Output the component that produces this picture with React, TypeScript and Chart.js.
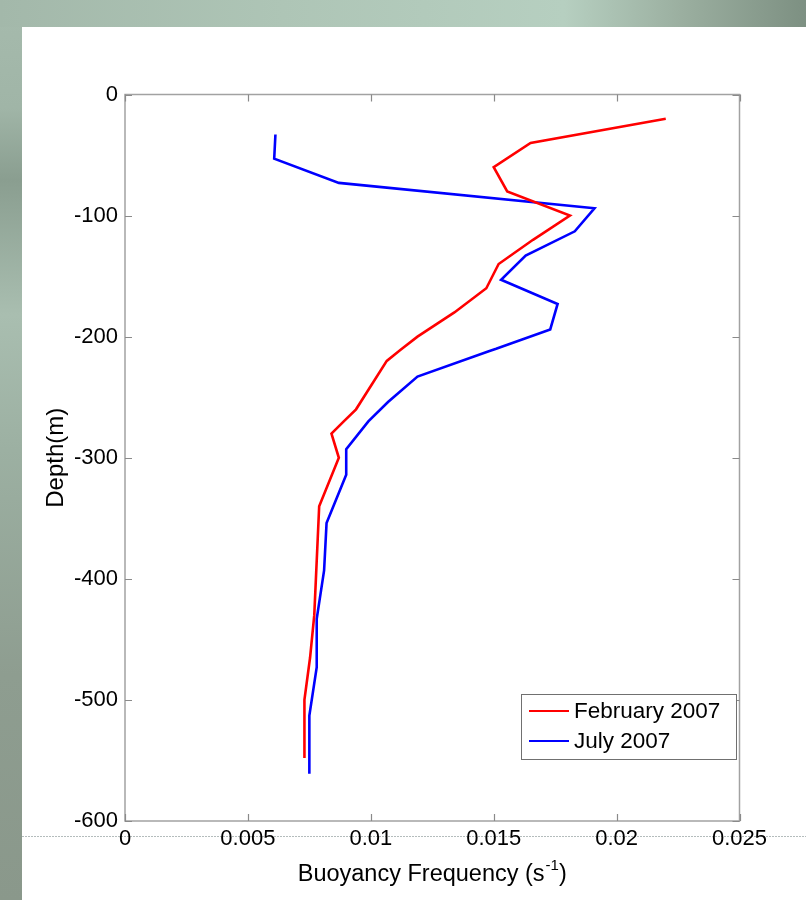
import React, { useEffect, useRef } from "react";
import { Chart, registerables } from "chart.js";
Chart.register(...registerables);

// February 2007 profile: depth (m) and buoyancy frequency (s^-1)
const febDepth = [-20, -40, -60, -80, -100, -120, -140, -160, -180, -200, -211, -220, -260, -270, -280, -300, -340, -430, -465, -500, -548];
const febN = [0.022, 0.0165, 0.015, 0.01555, 0.0181, 0.0166, 0.0152, 0.0147, 0.0134, 0.0119, 0.0112, 0.01065, 0.0094, 0.0089, 0.0084, 0.0087, 0.0079, 0.0077, 0.00753, 0.0073, 0.0073];

// July 2007 profile
const julDepth = [-33, -53, -73, -94, -113, -133, -153, -173, -194, -210, -212, -233, -254, -270, -293, -314, -354, -393, -433, -473, -513, -561];
const julN = [0.00612, 0.00607, 0.0087, 0.0191, 0.0183, 0.0163, 0.0153, 0.0176, 0.0173, 0.0151, 0.0148, 0.0119, 0.0107, 0.0099, 0.009, 0.009, 0.0082, 0.0081, 0.0078, 0.0078, 0.0075, 0.0075];

const seriesNames = ["February 2007", "July 2007"];
const seriesColors = ["#ff0000", "#0000ff"];

const xTickValues = [0, 0.005, 0.01, 0.015, 0.02, 0.025];
const xTickLabels = ["0", "0.005", "0.01", "0.015", "0.02", "0.025"];
const yTickValues = [0, -100, -200, -300, -400, -500, -600];
const yTickLabels = ["0", "-100", "-200", "-300", "-400", "-500", "-600"];

const xTitleMain = "Buoyancy Frequency (s";
const xTitleSup = "-1";
const xTitleEnd = ")";
const yTitle = "Depth(m)";

const FONT = "'Liberation Sans', Arial, Helvetica, sans-serif";

const decorPlugin = {
  id: "decor",
  beforeDraw(chart: any) {
    const { ctx, width, height } = chart;
    ctx.save();
    ctx.fillStyle = "#ffffff";
    ctx.fillRect(0, 0, width, height);
    // top strip
    const gTop = ctx.createLinearGradient(0, 0, width, 0);
    gTop.addColorStop(0, "#a3b8aa");
    gTop.addColorStop(0.35, "#aec5b6");
    gTop.addColorStop(0.7, "#b6cfc0");
    gTop.addColorStop(0.85, "#9aae9f");
    gTop.addColorStop(1, "#7d9082");
    ctx.fillStyle = gTop;
    ctx.fillRect(0, 0, width, 27);
    // left strip
    const gLeft = ctx.createLinearGradient(0, 0, 0, height);
    gLeft.addColorStop(0, "#a6bbad");
    gLeft.addColorStop(0.12, "#a0b5a7");
    gLeft.addColorStop(0.2, "#8a9e90");
    gLeft.addColorStop(0.35, "#a9beb0");
    gLeft.addColorStop(0.5, "#9cb0a2");
    gLeft.addColorStop(0.75, "#8e9d90");
    gLeft.addColorStop(1, "#8a988b");
    ctx.fillStyle = gLeft;
    ctx.fillRect(0, 27, 22, height - 27);
    // dotted separator line
    ctx.strokeStyle = "#b4bcbc";
    ctx.lineWidth = 1;
    ctx.setLineDash([2, 1]);
    ctx.beginPath();
    ctx.moveTo(22, 836.5);
    ctx.lineTo(width, 836.5);
    ctx.stroke();
    ctx.restore();
  },
  afterDraw(chart: any) {
    const { ctx, chartArea: ca, scales } = chart;
    const xs = scales.x;
    const ys = scales.y;
    ctx.save();
    // frame
    ctx.strokeStyle = "#a2a2a2";
    ctx.lineWidth = 1.5;
    ctx.strokeRect(ca.left, ca.top, ca.right - ca.left, ca.bottom - ca.top);
    ctx.lineWidth = 1.2;
    ctx.strokeStyle = "#8a8a8a";
    ctx.beginPath();
    xTickValues.forEach((v) => {
      const px = Math.round(xs.getPixelForValue(v)) + 0.5;
      ctx.moveTo(px, ca.bottom);
      ctx.lineTo(px, ca.bottom - 7);
      ctx.moveTo(px, ca.top);
      ctx.lineTo(px, ca.top + 7);
    });
    yTickValues.forEach((v) => {
      const py = Math.round(ys.getPixelForValue(v)) + 0.5;
      ctx.moveTo(ca.left, py);
      ctx.lineTo(ca.left + 7, py);
      ctx.moveTo(ca.right, py);
      ctx.lineTo(ca.right - 7, py);
    });
    ctx.stroke();

    // legend
    const lw = 215, lh = 65;
    const lx = ca.right - 3.5 - lw;
    const ly = ca.bottom - 62 - lh;
    ctx.fillStyle = "#ffffff";
    ctx.fillRect(lx, ly, lw, lh);
    ctx.strokeStyle = "#707070";
    ctx.lineWidth = 1;
    ctx.strokeRect(lx + 0.5, ly + 0.5, lw, lh);
    ctx.font = `22.5px ${FONT}`;
    ctx.textBaseline = "middle";
    ctx.textAlign = "left";
    seriesNames.forEach((name, i) => {
      const yy = ly + 17 + i * 30;
      ctx.strokeStyle = seriesColors[i];
      ctx.lineWidth = 2;
      ctx.beginPath();
      ctx.moveTo(lx + 8, yy);
      ctx.lineTo(lx + 48, yy);
      ctx.stroke();
      ctx.fillStyle = "#000000";
      ctx.fillText(name, lx + 53, yy + 1);
    });

    // x axis title with superscript
    const mainFont = `23.5px ${FONT}`;
    const supFont = `15px ${FONT}`;
    ctx.font = mainFont;
    const w1 = ctx.measureText(xTitleMain).width;
    const w3 = ctx.measureText(xTitleEnd).width;
    ctx.font = supFont;
    const w2 = ctx.measureText(xTitleSup).width;
    const total = w1 + w2 + w3 + 1;
    const cx = (ca.left + ca.right) / 2;
    let sx = cx - total / 2;
    const by = 881;
    ctx.textBaseline = "alphabetic";
    ctx.fillStyle = "#000000";
    ctx.font = mainFont;
    ctx.fillText(xTitleMain, sx, by);
    sx += w1 + 1;
    ctx.font = supFont;
    ctx.fillText(xTitleSup, sx, by - 11);
    sx += w2;
    ctx.font = mainFont;
    ctx.fillText(xTitleEnd, sx, by);
    ctx.restore();
  },
};

export default function App() {
  const ref = useRef<HTMLCanvasElement | null>(null);
  useEffect(() => {
    if (!ref.current) return;
    const chart = new Chart(ref.current, {
      type: "scatter",
      data: {
        datasets: [
          {
            label: seriesNames[0],
            data: febDepth.map((d, i) => ({ x: febN[i], y: d })),
            showLine: true,
            borderColor: seriesColors[0],
            backgroundColor: seriesColors[0],
            borderWidth: 2.6,
            pointRadius: 0,
            tension: 0,
          },
          {
            label: seriesNames[1],
            data: julDepth.map((d, i) => ({ x: julN[i], y: d })),
            showLine: true,
            borderColor: seriesColors[1],
            backgroundColor: seriesColors[1],
            borderWidth: 2.6,
            pointRadius: 0,
            tension: 0,
          },
        ],
      },
      options: {
        responsive: false,
        animation: false,
        devicePixelRatio: 1,
        layout: { padding: { left: 0, top: 94.5, right: 66.5, bottom: 0 } },
        plugins: { legend: { display: false }, tooltip: { enabled: false } },
        scales: {
          x: {
            type: "linear",
            min: 0,
            max: 0.025,
            afterBuildTicks: (s: any) => {
              s.ticks = xTickValues.map((v) => ({ value: v }));
            },
            afterFit: (s: any) => {
              s.height = 79;
            },
            grid: { display: false, drawTicks: false },
            border: { display: false },
            ticks: {
              autoSkip: false,
              maxRotation: 0,
              padding: 5,
              color: "#000",
              font: { size: 22, family: FONT },
              callback: (_v: any, i: number) => xTickLabels[i],
            },
          },
          y: {
            type: "linear",
            min: -600,
            max: 0,
            afterBuildTicks: (s: any) => {
              s.ticks = yTickValues.map((v) => ({ value: v }));
            },
            afterFit: (s: any) => {
              s.width = 125;
            },
            grid: { display: false, drawTicks: false },
            border: { display: false },
            title: {
              display: true,
              text: yTitle,
              color: "#000",
              font: { size: 24, family: FONT },
              padding: { top: 42, bottom: 0 },
            },
            ticks: {
              autoSkip: false,
              padding: 7,
              color: "#000",
              font: { size: 22, family: FONT },
              callback: (_v: any, i: number) => yTickLabels[i],
            },
          },
        },
      },
      plugins: [decorPlugin],
    });
    return () => chart.destroy();
  }, []);
  return (
    <div style={{ position: "absolute", left: 0, top: 0, width: 806, height: 900 }}>
      <canvas ref={ref} width={806} height={900} style={{ display: "block" }} />
    </div>
  );
}
